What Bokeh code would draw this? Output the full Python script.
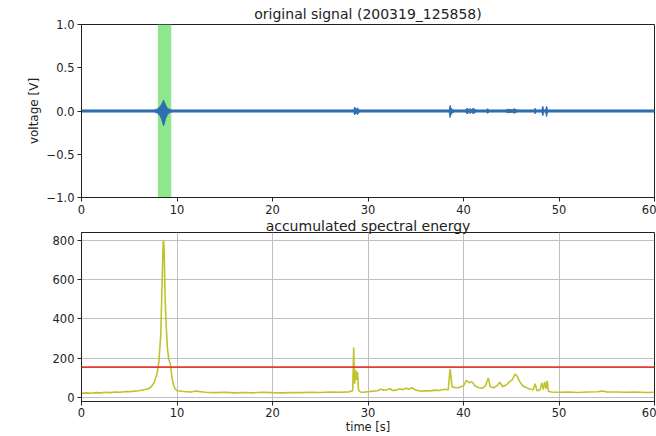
from bokeh.plotting import figure
from bokeh.layouts import column
from bokeh.models import BoxAnnotation, Span, FixedTicker, Range1d
from bokeh.embed import file_html
from bokeh.resources import INLINE

# ---------------- data ----------------
title_top = "original signal (200319_125858)"
title_bottom = "accumulated spectral energy"

# envelope of the recorded voltage signal [V]
sig_t = [0, 7.6, 7.9, 8.2, 8.4, 8.6, 8.8, 9.0, 9.3, 9.6,
         28.5, 28.6, 28.75, 28.9, 29.1,
         38.5, 38.6, 38.7, 38.8, 39.0,
         40.2, 40.4, 40.55, 40.7, 40.85, 41.0, 41.3,
         42.4, 42.5, 42.7, 44.4, 44.6, 45.1, 45.3, 45.6,
         47.4, 47.5, 47.6, 48.2, 48.3, 48.4, 48.6, 48.7, 48.8, 60]
sig_hi = [0.012, 0.012, 0.02, 0.045, 0.08, 0.125, 0.07, 0.03, 0.015, 0.012,
          0.012, 0.045, 0.02, 0.035, 0.012,
          0.012, 0.065, 0.03, 0.02, 0.012,
          0.012, 0.035, 0.015, 0.028, 0.015, 0.032, 0.012,
          0.012, 0.025, 0.012, 0.012, 0.02, 0.014, 0.025, 0.012,
          0.012, 0.032, 0.012, 0.012, 0.055, 0.012, 0.012, 0.055, 0.012, 0.012]
sig_lo = [-0.012, -0.012, -0.02, -0.05, -0.1, -0.17, -0.09, -0.04, -0.015, -0.012,
          -0.012, -0.045, -0.02, -0.04, -0.012,
          -0.012, -0.075, -0.035, -0.025, -0.012,
          -0.012, -0.035, -0.015, -0.028, -0.015, -0.032, -0.012,
          -0.012, -0.025, -0.012, -0.012, -0.02, -0.014, -0.025, -0.012,
          -0.012, -0.032, -0.012, -0.012, -0.055, -0.012, -0.012, -0.065, -0.012, -0.012]

band_start = 8.0
band_end = 9.4

# accumulated spectral energy
energy_t = [0, 0.5, 1, 1.5, 2, 2.5, 3, 3.5, 4, 4.5, 5, 5.5, 6, 6.5, 7, 7.3, 7.6, 7.9,
            8.1, 8.3, 8.45, 8.55, 8.6, 8.65, 8.75, 8.85, 9.0, 9.15, 9.3, 9.45, 9.6, 9.8,
            10.0, 10.5, 11, 11.5, 12, 12.5, 13, 14, 15, 16, 17, 18, 19, 20, 21, 22, 23,
            24, 25, 26, 27, 28, 28.4, 28.5, 28.6, 28.7, 28.8, 28.9, 29.0, 29.2, 29.5,
            30, 30.5, 31, 31.3, 31.6, 32, 32.3, 32.6, 33, 33.3, 33.6, 34, 34.3, 34.6,
            35, 35.5, 36, 36.5, 37, 37.5, 38, 38.4, 38.6, 38.8, 39.2, 39.6, 40, 40.3,
            40.6, 40.9, 41.2, 41.6, 42, 42.3, 42.6, 42.8, 43.2, 43.6, 43.8, 44.1, 44.5,
            44.8, 45.1, 45.4, 45.6, 45.9, 46.2, 46.6, 47, 47.3, 47.5, 47.7, 48.0, 48.2,
            48.35, 48.5, 48.65, 48.75, 48.9, 49.2, 50, 51, 52, 53, 54, 54.5, 55, 56,
            57, 58, 59, 60]
energy_v = [22, 24, 22, 25, 24, 27, 25, 28, 27, 30, 30, 33, 35, 40, 45, 55, 75, 120,
            180, 320, 600, 790, 800, 760, 520, 380, 250, 190, 175, 110, 70, 45,
            35, 32, 30, 28, 33, 30, 27, 25, 27, 24, 26, 24, 27, 25, 24, 26, 25,
            27, 26, 28, 27, 29, 35, 255, 70, 140, 90, 130, 40, 28, 27,
            30, 33, 35, 42, 38, 40, 45, 36, 38, 45, 40, 48, 42, 50,
            38, 33, 35, 34, 38, 36, 42, 40, 145, 55, 50, 52, 60, 88,
            75, 80, 60, 50, 48, 60, 100, 55, 50, 65, 78, 55, 65,
            80, 90, 120, 110, 80, 60, 50, 42, 40, 70, 35, 38, 75,
            40, 80, 45, 85, 32, 28, 27, 28, 26, 28, 30, 33, 29, 28,
            27, 28, 26, 27]
threshold = 155

x_ticks = [0, 10, 20, 30, 40, 50, 60]
v_ticks = [-1.0, -0.5, 0.0, 0.5, 1.0]
v_tick_labels = ["\u22121.0", "\u22120.5", "0.0", "0.5", "1.0"]
e_ticks = [0, 200, 400, 600, 800]

# ---------------- style ----------------
FONT = "DejaVu Sans"
BLUE = "#2f6fb0"
YELLOW = "#c2c22e"
RED = "#e03c31"
GREEN = "#90e68c"
INK = "#222222"


def style(p, standoff):
    p.title.text_font = FONT
    p.title.text_font_size = "14px"
    p.title.text_font_style = "normal"
    p.title.text_color = INK
    p.title.align = "center"
    p.title.standoff = standoff
    p.outline_line_color = INK
    p.outline_line_width = 1
    p.background_fill_color = "white"
    p.border_fill_color = "white"
    for ax in (p.xaxis[0], p.yaxis[0]):
        ax.major_label_text_font = FONT
        ax.major_label_text_font_size = "11.5px"
        ax.major_label_text_color = INK
        ax.axis_label_text_font = FONT
        ax.axis_label_text_font_size = "12px"
        ax.axis_label_text_font_style = "normal"
        ax.axis_label_text_color = INK
        ax.axis_line_color = INK
        ax.major_tick_line_color = INK
        ax.major_tick_out = 4
        ax.major_tick_in = 0
        ax.minor_tick_line_color = None
        ax.major_label_standoff = 3
        ax.axis_label_standoff = 3
    p.xaxis[0].ticker = FixedTicker(ticks=x_ticks)


# ---------------- top: original signal ----------------
p1 = figure(width=656, height=216, output_backend="svg", toolbar_location=None,
            x_range=Range1d(0, 60), y_range=Range1d(-1.0, 1.0),
            title=title_top, min_border_left=81, min_border_right=2,
            min_border_top=0, min_border_bottom=0)
style(p1, 6)
p1.xgrid.visible = False
p1.ygrid.visible = False
p1.yaxis[0].ticker = FixedTicker(ticks=v_ticks)
p1.yaxis[0].major_label_overrides = dict(zip(v_ticks, v_tick_labels))
p1.yaxis[0].axis_label = "voltage [V]"
p1.add_layout(BoxAnnotation(left=band_start, right=band_end, fill_color=GREEN,
                            fill_alpha=1.0, line_color=None, level="underlay"))
p1.varea(x=sig_t, y1=sig_lo, y2=sig_hi, fill_color=BLUE)
p1.line(x=sig_t, y=sig_hi, line_color=BLUE, line_width=1)
p1.line(x=sig_t, y=sig_lo, line_color=BLUE, line_width=1)

# ---------------- bottom: accumulated spectral energy ----------------
p2 = figure(width=656, height=220, output_backend="svg", toolbar_location=None,
            x_range=Range1d(0, 60), y_range=Range1d(-20, 840),
            title=title_bottom, min_border_left=81, min_border_right=2,
            min_border_top=0, min_border_bottom=0)
style(p2, -2)
p2.xaxis[0].major_label_standoff = 2
p2.xaxis[0].axis_label_standoff = 0
p2.xaxis[0].axis_label_text_font_size = "11.5px"
p2.yaxis[0].ticker = FixedTicker(ticks=e_ticks)
p2.xaxis[0].axis_label = "time [s]"
p2.xgrid.grid_line_color = "#c0c0c0"
p2.ygrid.grid_line_color = "#c0c0c0"
p2.xgrid.grid_line_width = 1
p2.ygrid.grid_line_width = 1
p2.line(x=energy_t, y=energy_v, line_color=YELLOW, line_width=1.6)
p2.add_layout(Span(location=threshold, dimension="width", line_color=RED,
                   line_width=1.6))

layout = column(p1, p2, spacing=0)
open("out.html", "w").write(file_html(layout, INLINE))
